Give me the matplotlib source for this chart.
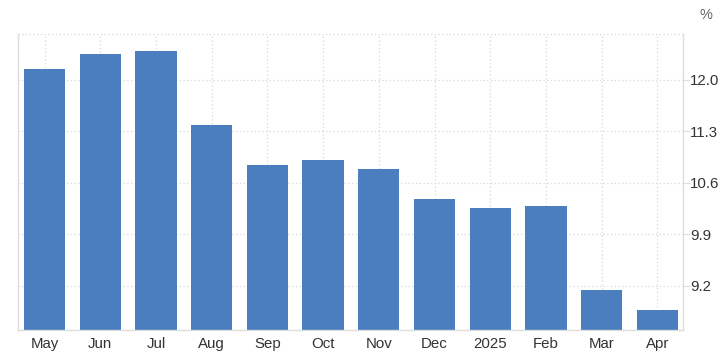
import matplotlib
matplotlib.use("Agg")
import matplotlib.pyplot as plt

categories = ["May", "Jun", "Jul", "Aug", "Sep", "Oct", "Nov", "Dec", "2025", "Feb", "Mar", "Apr"]
values = [12.15, 12.35, 12.39, 11.39, 10.84, 10.91, 10.79, 10.38, 10.26, 10.29, 9.15, 8.87]
yticks = [9.2, 9.9, 10.6, 11.3, 12.0]
ytick_labels = ["9.2", "9.9", "10.6", "11.3", "12.0"]

plt.rcParams['font.family'] = ['Liberation Sans', 'DejaVu Sans']

W, H = 726, 359
fig = plt.figure(figsize=(W / 100, H / 100), dpi=100)
left, right, top, bottom = 17.5, 683, 34, 330
ax = fig.add_axes([left / W, 1 - bottom / H, (right - left) / W, (bottom - top) / H])

x = list(range(len(categories)))
ax.bar(x, values, width=0.74, color="#4A7EBF", zorder=2)

ax.set_xlim(-0.485, 11.46)
ax.set_ylim(8.60, 12.625)

ax.set_xticks(x)
ax.set_xticklabels(categories, fontsize=10.8, color="#333333")
ax.set_yticks(yticks)
ax.set_yticklabels(ytick_labels, fontsize=10.8, color="#333333")
ax.yaxis.tick_right()

ax.grid(True, axis="both", linestyle=(0, (1, 2)), color="#d8d8d8", linewidth=0.9, zorder=0)
ax.set_axisbelow(True)

for s in ["left", "bottom", "right"]:
    ax.spines[s].set_color("#dddddd")
    ax.spines[s].set_linewidth(1.0)
ax.spines["top"].set_visible(False)
ax.axhline(12.625, color="#d8d8d8", linestyle=(0, (1, 2)), linewidth=0.9, zorder=0, clip_on=False)

ax.tick_params(axis="x", length=0, pad=5)
ax.tick_params(axis="y", length=5, color="#dddddd", pad=0)

fig.text(706 / W, 1 - 15 / H, "%", fontsize=10.5, color="#666666", ha="center", va="center")

fig.savefig("out.png", dpi=100)
